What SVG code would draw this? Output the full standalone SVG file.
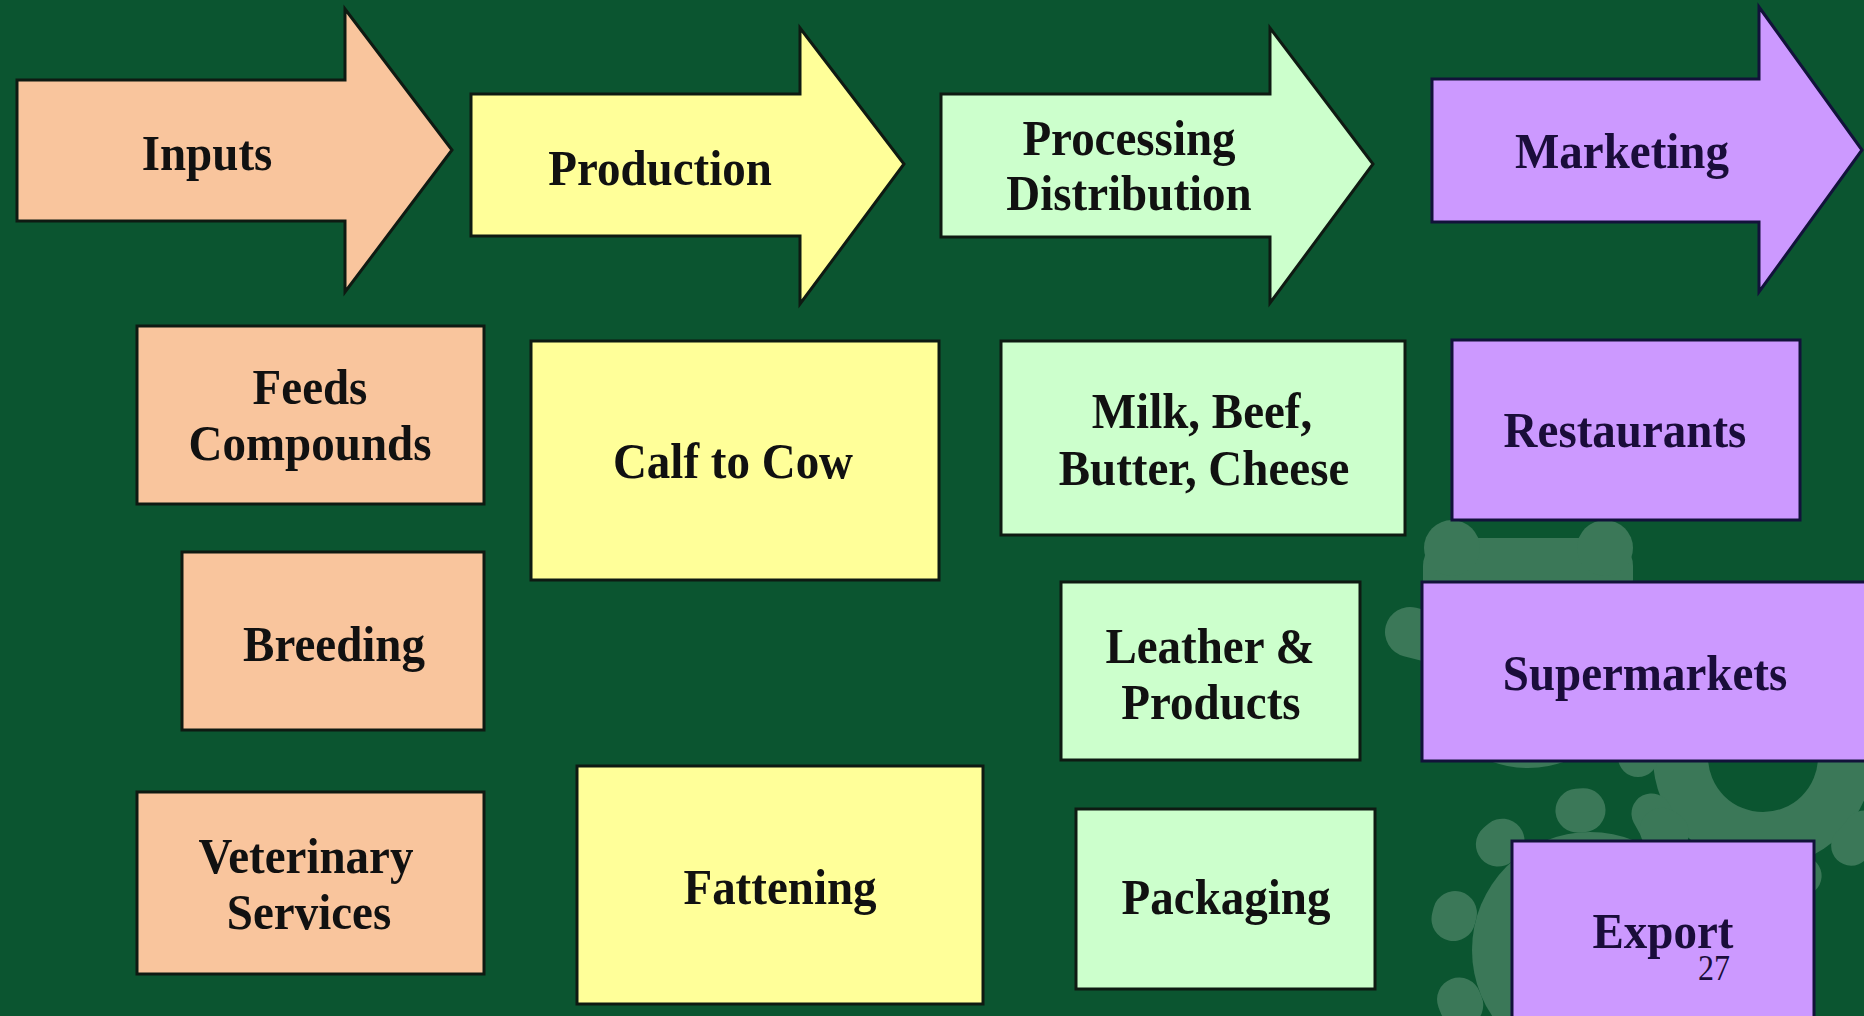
<svg xmlns="http://www.w3.org/2000/svg" width="1864" height="1016" viewBox="0 0 1864 1016">
<style>
.bg{fill:#0b5530}
.gear{fill:#3b7858}
.tooth{stroke:#3b7858;fill:none;stroke-linecap:round}
.shape{stroke:#0e1a12;stroke-width:3;stroke-linejoin:miter}
.peach{fill:#f9c59d}
.yellow{fill:#ffff99}
.mint{fill:#ccffcc}
.violet{fill:#cc99ff;stroke:#12123a}
text{font-family:"Liberation Serif","Times New Roman",serif;font-weight:bold;font-size:47px;text-anchor:middle;fill:#111}
.dk{fill:#1a0d3a}
.pg{font-weight:normal;font-size:32px}
</style>
<rect class="bg" x="0" y="0" width="1864" height="1016"/>
<g id="watermark">
  <circle class="gear" cx="1528" cy="662" r="106"/>
  <rect class="gear" x="1423" y="538" width="210" height="70" rx="28"/>
  <circle class="gear" cx="1452" cy="548" r="28"/>
  <circle class="gear" cx="1605" cy="548" r="28"/>
  <path class="tooth" stroke-width="50" d="M1528,662 L1410,632"/>
  <circle class="gear" cx="1763" cy="757" r="110"/>
  <circle class="tooth" cx="1763" cy="757" r="125" stroke-width="40" stroke-dasharray="20 58.5"/>
  <circle class="bg" cx="1763" cy="757" r="55"/>
  <circle class="gear" cx="1590" cy="950" r="118"/>
  <circle class="tooth" cx="1590" cy="950" r="140" stroke-width="44" stroke-dasharray="6 81.96" stroke-dashoffset="-31.2"/>
</g>
<g id="connectors"></g>
<g id="arrow-inputs">
  <polygon class="shape peach" points="17,80 345,80 345,9 452,150 345,292 345,221 17,221"/>
  <text transform="translate(207,170) scale(1,1.1)">Inputs</text>
</g>
<g id="arrow-production">
  <polygon class="shape yellow" points="471,94 800,94 800,28 904,164 800,304 800,236 471,236"/>
  <text transform="translate(660,185) scale(1,1.1)">Production</text>
</g>
<g id="arrow-processing">
  <polygon class="shape mint" points="941,94 1270,94 1270,28 1373,164 1270,303 1270,237 941,237"/>
  <text transform="translate(1129,155) scale(1,1.1)">Processing</text>
  <text transform="translate(1129,210) scale(1,1.1)">Distribution</text>
</g>
<g id="arrow-marketing">
  <polygon class="shape violet" points="1432,79 1759,79 1759,7 1862,150 1759,292 1759,222 1432,222"/>
  <text class="dk" transform="translate(1622,168) scale(1,1.1)">Marketing</text>
</g>
<g id="box-feeds">
  <rect class="shape peach" x="137" y="326" width="347" height="178"/>
  <text transform="translate(310,404) scale(1,1.1)">Feeds</text>
  <text transform="translate(310,460) scale(1,1.1)">Compounds</text>
</g>
<g id="box-breeding">
  <rect class="shape peach" x="182" y="552" width="302" height="178"/>
  <text transform="translate(334,661) scale(1,1.1)">Breeding</text>
</g>
<g id="box-veterinary">
  <rect class="shape peach" x="137" y="792" width="347" height="182"/>
  <text transform="translate(306,873) scale(1,1.1)">Veterinary</text>
  <text transform="translate(309,929) scale(1,1.1)">Services</text>
</g>
<g id="box-calf">
  <rect class="shape yellow" x="531" y="341" width="408" height="239"/>
  <text transform="translate(733,478) scale(1,1.1)">Calf to Cow</text>
</g>
<g id="box-fattening">
  <rect class="shape yellow" x="577" y="766" width="406" height="238"/>
  <text transform="translate(780,904) scale(1,1.1)">Fattening</text>
</g>
<g id="box-milk">
  <rect class="shape mint" x="1001" y="341" width="404" height="194"/>
  <text transform="translate(1202,428) scale(1,1.1)">Milk, Beef,</text>
  <text transform="translate(1204,485) scale(1,1.1)">Butter, Cheese</text>
</g>
<g id="box-leather">
  <rect class="shape mint" x="1061" y="582" width="299" height="178"/>
  <text transform="translate(1210,663) scale(1,1.1)">Leather &amp;</text>
  <text transform="translate(1211,719) scale(1,1.1)">Products</text>
</g>
<g id="box-packaging">
  <rect class="shape mint" x="1076" y="809" width="299" height="180"/>
  <text transform="translate(1226,914) scale(1,1.1)">Packaging</text>
</g>
<g id="box-restaurants">
  <rect class="shape violet" x="1452" y="340" width="348" height="180"/>
  <text class="dk" transform="translate(1625,447) scale(1,1.1)">Restaurants</text>
</g>
<g id="box-supermarkets">
  <rect class="shape violet" x="1422" y="582" width="450" height="179"/>
  <text class="dk" transform="translate(1645,690) scale(1,1.1)">Supermarkets</text>
</g>
<g id="box-export">
  <rect class="shape violet" x="1512" y="841" width="302" height="185"/>
  <text class="dk" transform="translate(1663,948) scale(1,1.1)">Export</text>
  <text class="dk pg" transform="translate(1714,980) scale(1,1.1)">27</text>
</g>
</svg>
